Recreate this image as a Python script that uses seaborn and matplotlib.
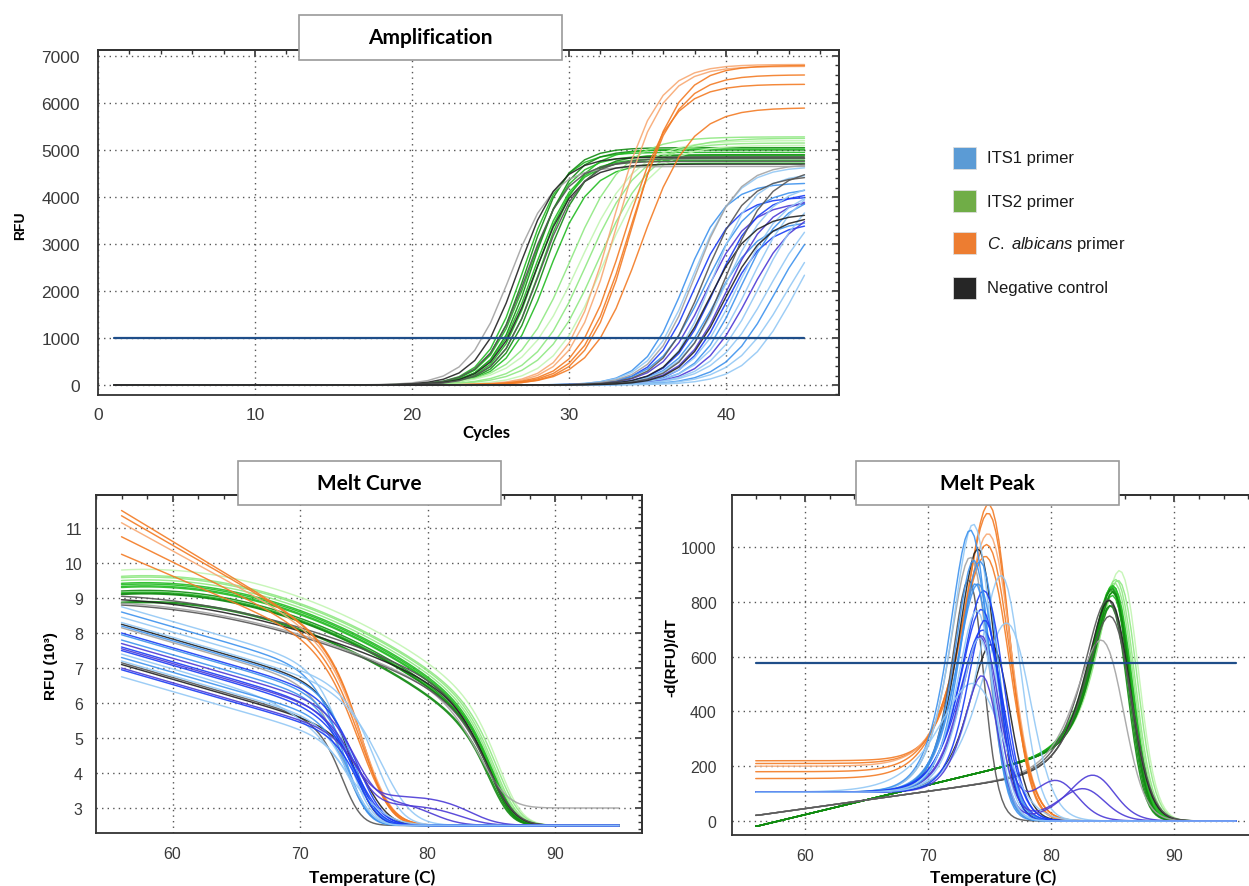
import numpy as np
import pandas as pd
import matplotlib
matplotlib.use("Agg")
import matplotlib.pyplot as plt
from matplotlib.patches import Rectangle
from matplotlib.ticker import MultipleLocator, NullFormatter
import seaborn as sns

# ====================== DATA ======================
# Amplification: per-well threshold cycle (RFU = 1000), plateau RFU and curve steepness
cycles = np.arange(1, 46)
amp_threshold = 1000

amp_its2_ct = [25.4, 25.6, 25.7, 25.9, 26.0, 26.2, 26.4, 26.6, 26.9, 27.6, 28.1, 28.7, 29.3, 29.9]
amp_its2_plateau = [4950, 5050, 4880, 5000, 4820, 4780, 5020, 4900, 4720, 5280, 5200, 5150, 5250, 5100]
amp_its2_slope = [1.25, 1.25, 1.3, 1.25, 1.3, 1.25, 1.3, 1.3, 1.35, 1.7, 1.8, 1.7, 1.75, 1.6]

amp_neg_a_ct = [24.5, 25.0, 25.6, 26.1, 26.4]
amp_neg_a_plateau = [4650, 4850, 4760, 4700, 4820]
amp_neg_a_slope = [1.35, 1.3, 1.3, 1.3, 1.3]

amp_calb_ct = [30.2, 30.5, 31.0, 31.3, 31.5, 32.0]
amp_calb_plateau = [6820, 6780, 6400, 6600, 6800, 5900]
amp_calb_slope = [1.45, 1.45, 1.5, 1.5, 1.45, 1.6]

amp_its1_ct = [35.8, 36.1, 36.5, 36.9, 37.2, 37.5, 37.7, 38.0, 38.2, 38.5,
               38.8, 39.0, 39.3, 39.6, 39.9, 40.3, 40.8, 41.4, 42.0, 42.7]
amp_its1_plateau = [4300, 4650, 4000, 4200, 3900, 4500, 4100, 3500, 4300, 4000,
                    3450, 4200, 4050, 4400, 3800, 4300, 4100, 3900, 3900, 4000]
amp_its1_slope = [1.3, 1.4, 1.3, 1.5, 1.4, 1.3, 1.4, 1.4, 1.5, 1.4,
                  1.3, 1.5, 1.4, 1.6, 1.5, 1.6, 1.7, 1.6, 1.7, 1.6]

amp_neg_b_ct = [36.3, 36.9, 37.6, 38.2, 38.6]
amp_neg_b_plateau = [4700, 4450, 3650, 4600, 3600]
amp_neg_b_slope = [1.35, 1.35, 1.35, 1.4, 1.35]

# Melt: RFU (x10^3) at 56 C, pre-melt decline, melt temperature and width per well
melt_temp = np.arange(56, 95.001, 0.25)
melt_threshold = 577
melt_shape_nu = 2.0

melt_its1_start = [8.75, 8.6, 8.45, 8.3, 8.2, 8.0, 7.95, 7.8, 7.7, 7.6,
                   7.55, 7.5, 7.4, 7.3, 7.2, 7.0, 6.95, 6.75]
melt_its1_k1 = [0.105] * 18
melt_its1_tm = [74.65, 74.4, 77.0, 77.7, 75.2, 75.6, 75.1, 74.6, 75.3, 75.4,
                75.2, 75.6, 75.4, 74.7, 74.9, 75.3, 75.5, 75.1]
melt_its1_w = [1.25, 1.24, 1.34, 1.6, 1.24, 1.32, 1.28, 1.12, 1.2, 1.29,
               1.2, 1.39, 1.98, 1.05, 1.15, 1.05, 1.07, 1.11]
melt_its1_a2 = [0, 0, 0, 0, 0, 0, 0, 0, 0.75, 0, 0.6, 0, 0, 0, 0, 0.85, 0, 0]
melt_its1_tm2 = [0, 0, 0, 0, 0, 0, 0, 0, 81.4, 0, 83.6, 0, 0, 0, 0, 84.4, 0, 0]

melt_neg_b_start = [8.25, 8.15, 7.15, 7.1]
melt_neg_b_tm = [75.0, 74.4, 74.1, 76.2]
melt_neg_b_w = [1.2, 1.23, 1.0, 1.28]

melt_calb_start = [11.5, 11.35, 11.15, 10.75, 10.25]
melt_calb_k1 = [0.22, 0.21, 0.2, 0.18, 0.155]
melt_calb_tm = [76.1, 76.1, 76.2, 76.1, 76.0]
melt_calb_w = [1.35, 1.4, 1.5, 1.55, 1.6]

melt_its2_start = [9.8, 9.62, 9.58, 9.5, 9.42, 9.38, 9.33, 9.3, 9.2, 9.15, 9.12, 9.1, 8.88, 8.85]
melt_its2_tm = [86.8, 86.7, 86.5, 86.4, 86.3, 86.2, 86.3, 86.2, 86.1, 86.2, 86.1, 86.2, 86.1, 86.0]
melt_its2_w = [1.2, 1.2, 1.2, 1.2, 1.2, 1.2, 1.2, 1.15, 1.15, 1.15, 1.1, 1.1, 1.1, 1.1]
melt_its2_k1, melt_its2_k2 = -0.02, 0.0054

melt_neg_a_start = [9.05, 8.95, 8.85, 8.8]
melt_neg_a_base = [2.5, 2.5, 3.0, 2.5]
melt_neg_a_tm = [85.9, 86.0, 85.5, 86.1]
melt_neg_a_w = [1.4, 1.35, 1.45, 1.4]
melt_neg_a_k1, melt_neg_a_k2 = 0.02, 0.00315

legend_labels = ["ITS1 primer", "ITS2 primer", r"$\it{C.\ albicans}$ primer", "Negative control"]

# ====================== STYLE ======================
legend_colors = ["#5b9bd5", "#70ad47", "#ed7d31", "#262626"]
shade = {"lblue": "#93c8f5", "sky": "#3d92ee", "blue": "#1a3cf5", "purple": "#4b3ad6",
         "black": "#222222", "dgray": "#555555", "lgray": "#a3a3a3",
         "dgreen": "#128a12", "green": "#22bb22", "lgreen": "#8fe882", "pgreen": "#c2f5b2",
         "orange": "#f37b24", "lorange": "#f8a872"}
amp_its2_shade = ["green", "dgreen", "green", "dgreen", "green", "green", "green", "dgreen",
                  "green", "lgreen", "pgreen", "lgreen", "lgreen", "pgreen"]
amp_neg_a_shade = ["lgray", "black", "dgray", "black", "dgray"]
amp_calb_shade = ["lorange", "lorange", "orange", "orange", "orange", "orange"]
amp_its1_shade = ["sky", "lblue", "blue", "sky", "purple", "lblue", "blue", "sky", "lblue", "purple",
                  "blue", "lblue", "sky", "lblue", "purple", "lblue", "lblue", "sky", "lblue", "lblue"]
amp_neg_b_shade = ["lgray", "dgray", "black", "dgray", "black"]
melt_its1_shade = ["lblue", "sky", "lblue", "lblue", "sky", "blue", "sky", "sky", "purple", "blue",
                   "purple", "blue", "lblue", "sky", "lblue", "purple", "blue", "lblue"]
melt_neg_b_shade = ["black", "lgray", "dgray", "black"]
melt_calb_shade = ["orange", "orange", "lorange", "orange", "orange"]
melt_its2_shade = ["pgreen", "lgreen", "lgreen", "lgreen", "green", "green", "green", "green",
                   "dgreen", "green", "dgreen", "dgreen", "dgreen", "dgreen"]
melt_neg_a_shade = ["dgray", "black", "lgray", "dgray"]

sns.set_theme(style="white")
plt.rcParams["font.family"] = ["Liberation Sans", "DejaVu Sans"]
plt.rcParams["mathtext.fontset"] = "custom"
plt.rcParams["mathtext.rm"] = "Liberation Sans"
plt.rcParams["mathtext.it"] = "Liberation Sans:italic"

W, H = 1249, 887


def fx(px):
    return px / W


def fy(py):
    return 1 - py / H


def amp_curve(ct, plateau, slope):
    mid = ct + slope * np.log(plateau / amp_threshold - 1)
    return plateau / (1 + np.exp(-(cycles - mid) / slope))


def melt_curve(start, base, k1, k2, tm, w, a2=0.0, tm2=0.0, w2=1.5):
    t = melt_temp - 56
    d = start - base - a2 - k1 * t - k2 * t ** 2
    g = (1 + np.exp((melt_temp - tm) / w)) ** (-melt_shape_nu)
    f = base + d * g
    if a2:
        f = f + a2 * (1 + np.exp((melt_temp - tm2) / w2)) ** (-melt_shape_nu)
    return f


amp_rows, melt_rows, palette_amp, palette_melt = [], [], {}, {}
order_amp, order_melt = [], []


def add_amp(name, cts, plats, slopes, shades):
    for i, (c, p, s, sh) in enumerate(zip(cts, plats, slopes, shades)):
        key = f"{name}{i}"
        amp_rows.append(pd.DataFrame({"x": cycles, "y": amp_curve(c, p, s), "curve": key}))
        palette_amp[key] = shade[sh]
        order_amp.append(key)


def add_melt(name, params, shades):
    for i, (pr, sh) in enumerate(zip(params, shades)):
        key = f"{name}{i}"
        f = melt_curve(*pr)
        peak = -np.gradient(f, melt_temp) * 1000   # melt peak = -d(RFU)/dT
        melt_rows.append(pd.DataFrame({"x": melt_temp, "y": f, "peak": peak, "curve": key}))
        palette_melt[key] = shade[sh]
        order_melt.append(key)


add_amp("its2", amp_its2_ct, amp_its2_plateau, amp_its2_slope, amp_its2_shade)
add_amp("nega", amp_neg_a_ct, amp_neg_a_plateau, amp_neg_a_slope, amp_neg_a_shade)
add_amp("calb", amp_calb_ct, amp_calb_plateau, amp_calb_slope, amp_calb_shade)
add_amp("its1", amp_its1_ct, amp_its1_plateau, amp_its1_slope, amp_its1_shade)
add_amp("negb", amp_neg_b_ct, amp_neg_b_plateau, amp_neg_b_slope, amp_neg_b_shade)
df_amp = pd.concat(amp_rows, ignore_index=True)

add_melt("its2", [(s, 2.5, melt_its2_k1, melt_its2_k2, t, w)
                  for s, t, w in zip(melt_its2_start, melt_its2_tm, melt_its2_w)], melt_its2_shade)
add_melt("nega", [(s, b, melt_neg_a_k1, melt_neg_a_k2, t, w)
                  for s, b, t, w in zip(melt_neg_a_start, melt_neg_a_base, melt_neg_a_tm, melt_neg_a_w)],
         melt_neg_a_shade)
add_melt("calb", [(s, 2.5, k, 0.0, t, w)
                  for s, k, t, w in zip(melt_calb_start, melt_calb_k1, melt_calb_tm, melt_calb_w)],
         melt_calb_shade)
add_melt("negb", [(s, 2.5, 0.105, 0.0, t, w)
                  for s, t, w in zip(melt_neg_b_start, melt_neg_b_tm, melt_neg_b_w)], melt_neg_b_shade)
add_melt("its1", [(s, 2.5, k, 0.0, t, w, a, t2)
                  for s, k, t, w, a, t2 in zip(melt_its1_start, melt_its1_k1, melt_its1_tm,
                                               melt_its1_w, melt_its1_a2, melt_its1_tm2)],
         melt_its1_shade)
df_melt = pd.concat(melt_rows, ignore_index=True)

fig = plt.figure(figsize=(W / 100, H / 100), dpi=100)
fig.patch.set_facecolor("white")


def axes_px(left, top, right, bottom):
    return fig.add_axes([fx(left), fy(bottom), (right - left) / W, (bottom - top) / H])


ax_amp = axes_px(98, 51, 839, 396)
ax_mc = axes_px(96, 496, 642, 834)
ax_mp = axes_px(732, 496, 1258, 836)

GRID = dict(color="#555555", linestyle=(0, (1, 3)), linewidth=1.0)


def style_axes(ax, xmaj, xmin, ymaj, ymin, xlim, ylim, labelsize, ypad, xpad):
    ax.set_xlim(*xlim)
    ax.set_ylim(*ylim)
    ax.xaxis.set_major_locator(MultipleLocator(xmaj))
    ax.xaxis.set_minor_locator(MultipleLocator(xmin))
    ax.yaxis.set_major_locator(MultipleLocator(ymaj))
    ax.yaxis.set_minor_locator(MultipleLocator(ymin))
    ax.grid(True, which="major", **GRID)
    ax.set_axisbelow(True)
    ax.tick_params(which="major", direction="inout", length=9, width=1.3, color="#333333",
                   labelsize=labelsize, labelcolor="#3a3a3a")
    ax.tick_params(which="minor", direction="inout", length=5, width=1.1, color="#333333")
    ax.tick_params(axis="y", which="major", pad=ypad)
    ax.tick_params(axis="x", which="major", pad=xpad)
    for s in ax.spines.values():
        s.set_color("#333333")
        s.set_linewidth(1.3)
    ax.set_xlabel("")
    ax.set_ylabel("")
    ax.set_facecolor("white")
    sx = ax.secondary_xaxis("top")
    sx.xaxis.set_major_locator(MultipleLocator(xmaj))
    sx.xaxis.set_minor_locator(MultipleLocator(xmin))
    sx.xaxis.set_major_formatter(NullFormatter())
    sx.tick_params(which="major", direction="in", length=5, width=1.2, color="#333333")
    sx.tick_params(which="minor", direction="in", length=3, width=1.0, color="#333333")
    sx.spines["top"].set_linewidth(1.3)
    sx.spines["top"].set_color("#333333")
    sy = ax.secondary_yaxis("right")
    sy.yaxis.set_major_locator(MultipleLocator(ymaj))
    sy.yaxis.set_minor_locator(MultipleLocator(ymin))
    sy.yaxis.set_major_formatter(NullFormatter())
    sy.tick_params(which="major", direction="in", length=5, width=1.2, color="#333333")
    sy.tick_params(which="minor", direction="in", length=3, width=1.0, color="#333333")
    sy.spines["right"].set_linewidth(1.3)
    sy.spines["right"].set_color("#333333")


sns.lineplot(data=df_amp, x="x", y="y", hue="curve", hue_order=order_amp, palette=palette_amp,
             estimator=None, legend=False, linewidth=1.05, alpha=0.9, sort=False, ax=ax_amp)
ax_amp.plot([cycles[0], cycles[-1]], [amp_threshold, amp_threshold], color="#1f4e89", lw=1.6, zorder=5)
style_axes(ax_amp, 10, 2, 1000, 200, (0, 47.2), (-213, 7128), 12.5, 8.5, 4.5)

sns.lineplot(data=df_melt, x="x", y="y", hue="curve", hue_order=order_melt, palette=palette_melt,
             estimator=None, legend=False, linewidth=1.05, alpha=0.9, sort=False, ax=ax_mc)
style_axes(ax_mc, 10, 2, 1, 0.2, (54.0, 96.8), (2.286, 11.943), 11.5, 5, 5)

sns.lineplot(data=df_melt, x="x", y="peak", hue="curve", hue_order=order_melt, palette=palette_melt,
             estimator=None, legend=False, linewidth=1.05, alpha=0.9, sort=False, ax=ax_mp)
ax_mp.plot([melt_temp[0], melt_temp[-1]], [melt_threshold, melt_threshold], color="#1f4e89", lw=1.6, zorder=5)
style_axes(ax_mp, 10, 2, 200, 50, (54.07, 96.8), (-51, 1190), 11.5, 6.5, 5)

TITLE_FONT = dict(family=["Lato", "DejaVu Sans"], weight="bold")


def title_box(left, top, right, bottom, text, size=15):
    fig.add_artist(Rectangle((fx(left), fy(bottom)), (right - left) / W, (bottom - top) / H,
                             transform=fig.transFigure, facecolor="white", edgecolor="#9a9a9a",
                             linewidth=1.2, zorder=10))
    fig.text(fx((left + right) / 2), fy((top + bottom) / 2), text, ha="center", va="center",
             fontsize=size, zorder=11, color="black", **TITLE_FONT)


title_box(299, 16, 562, 61, "Amplification")
title_box(238, 462, 501, 506, "Melt Curve")
title_box(856, 462, 1119, 506, "Melt Peak")

fig.text(fx(486), fy(433), "Cycles", ha="center", va="center", fontsize=12, color="black", **TITLE_FONT)
fig.text(fx(372), fy(878), "Temperature (C)", ha="center", va="center", fontsize=12.5, color="black",
         **TITLE_FONT)
fig.text(fx(993), fy(878), "Temperature (C)", ha="center", va="center", fontsize=12.5, color="black",
         **TITLE_FONT)
fig.text(fx(20), fy(226), "RFU", rotation=90, ha="center", va="center", fontsize=10, weight="bold",
         color="black")
fig.text(fx(51), fy(666), "RFU (10³)", rotation=90, ha="center", va="center", fontsize=11,
         weight="bold", color="black")
fig.text(fx(671), fy(658), "-d(RFU)/dT", rotation=90, ha="center", va="center", fontsize=11,
         weight="bold", color="black")

legend_y = [159, 202, 244, 289]
for lab, col, yy in zip(legend_labels, legend_colors, legend_y):
    fig.add_artist(Rectangle((fx(953), fy(yy + 11)), 23 / W, 22 / H, transform=fig.transFigure,
                             facecolor=col, edgecolor="#dddddd", linewidth=0.6))
    fig.text(fx(987), fy(yy), lab, ha="left", va="center", fontsize=12, color="#1a1a1a")

fig.savefig("out.png", dpi=100, facecolor="white")
